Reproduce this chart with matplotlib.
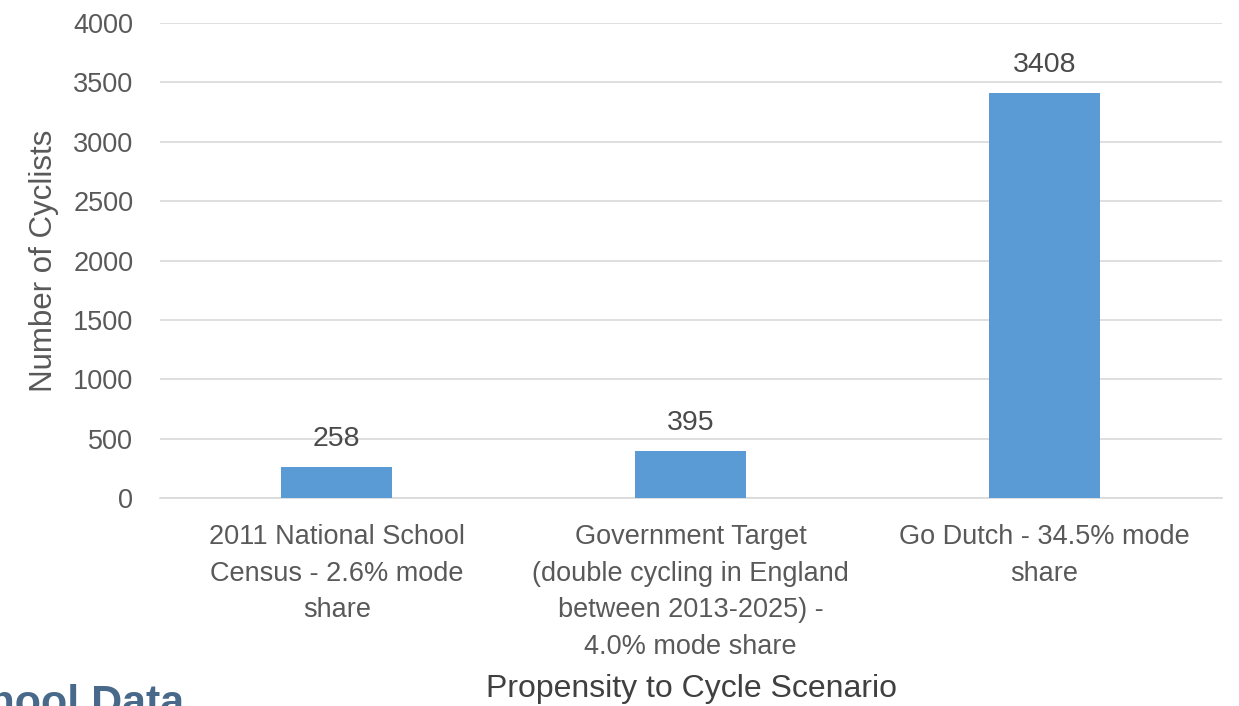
import matplotlib
matplotlib.use("Agg")
import matplotlib.pyplot as plt

plt.rcParams['font.family'] = ['Liberation Sans', 'DejaVu Sans']

scenarios = [
    "2011 National School\nCensus - 2.6% mode\nshare",
    "Government Target\n(double cycling in England\nbetween 2013-2025) -\n4.0% mode share",
    "Go Dutch - 34.5% mode\nshare",
]
cyclists = [258, 395, 3408]
yticks = [0, 500, 1000, 1500, 2000, 2500, 3000, 3500, 4000]

text_col = '#595959'
grid_col = '#d9d9d9'
bar_col = '#5b9bd5'

fig = plt.figure(figsize=(12.39, 7.06), dpi=100)
ax = fig.add_axes([0.129, 0.2946, 0.857, 0.6728])

x = range(len(cyclists))
bars = ax.bar(x, cyclists, width=0.314, color=bar_col, zorder=3)
for xi, v in zip(x, cyclists):
    ax.annotate(str(v), (xi, v), xytext=(0, 11), textcoords='offset points',
                ha='center', va='bottom', fontsize=20.5, color='#4a4a4a')

ax.set_xlim(-0.5, 2.5)
ax.set_ylim(0, 4000)
ax.set_yticks(yticks)
ax.set_xticks(list(x))
ax.set_xticklabels(scenarios, fontsize=19.5, color=text_col, linespacing=1.52)
ax.tick_params(axis='y', labelsize=19.5, labelcolor=text_col, length=0, pad=19)
ax.tick_params(axis='x', length=0, pad=19)
ax.yaxis.grid(True, color=grid_col, linewidth=1.2, zorder=0)
for s in ['top', 'right', 'left']:
    ax.spines[s].set_visible(False)
ax.spines['bottom'].set_color(grid_col)
ax.spines['bottom'].set_linewidth(1.2)

ax.set_ylabel("Number of Cyclists", fontsize=22.5, color=text_col, labelpad=10)
fig.text(692 / 1239, 1 - 689 / 706, "Propensity to Cycle Scenario",
         ha='center', va='center', fontsize=23, color='#404040')

fig.text(184 / 1239, -9 / 706, "School Data", ha='right', va='baseline',
         fontsize=31, fontweight='bold', color='#48698a')

fig.savefig("out.png", dpi=100)
